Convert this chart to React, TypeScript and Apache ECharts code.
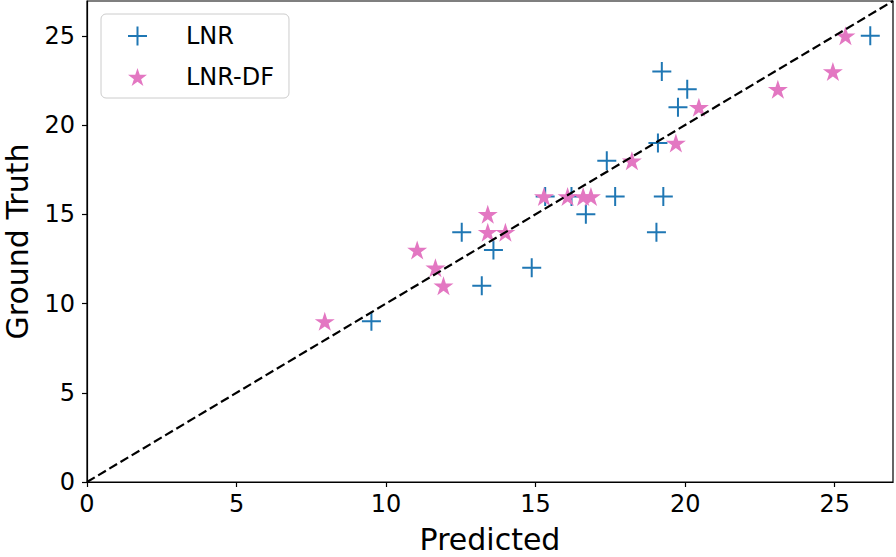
import React, { useEffect, useRef } from "react";
import * as echarts from "echarts";

// Ground truth vs predicted values
const lnrPredicted = [26.19, 19.22, 20.07, 19.76, 19.09, 17.38, 15.32, 16.2, 17.66, 19.27, 16.68, 19.04, 12.53, 13.59, 13.2, 14.87, 9.51];
const lnrTruth = [25, 23, 22, 21, 19, 18, 16, 16, 16, 16, 15, 14, 14, 13, 11, 12, 9];
const dfPredicted = [25.36, 24.94, 23.1, 20.46, 19.69, 18.22, 15.28, 16.07, 16.59, 16.85, 13.4, 13.4, 13.99, 11.04, 11.65, 11.92, 7.95];
const dfTruth = [25, 23, 22, 21, 19, 18, 16, 16, 16, 16, 15, 14, 14, 13, 12, 11, 9];
const tickValues = [0, 5, 10, 15, 20, 25];
const axisMin = 0;
const axisMax = 26.95;
const seriesNames = ["LNR", "LNR-DF"];

const PLUS =
  "path://M-1,-0.105L1,-0.105L1,0.105L-1,0.105Z M-0.105,-1L0.105,-1L0.105,1L-0.105,1Z";
const STAR =
  "path://M0,-1L-0.2245,-0.309L-0.951,-0.309L-0.363,0.118L-0.588,0.809L0,0.382L0.588,0.809L0.363,0.118L0.951,-0.309L0.2245,-0.309Z";

const FONT = "DejaVu Sans";

export default function App() {
  const ref = useRef<HTMLDivElement>(null);
  useEffect(() => {
    document.body.style.margin = "0";
    const chart = echarts.init(ref.current!, null, { renderer: "svg" });
    const zip = (xs: number[], ys: number[]) => xs.map((x, i) => [x, ys[i]]);
    const axisCommon = {
      type: "value",
      min: axisMin,
      max: axisMax,
      interval: 5,
      nameLocation: "middle",
      nameTextStyle: { fontSize: 30, color: "#000", fontFamily: FONT },
      axisLine: { show: true, lineStyle: { color: "#000", width: 1.2 } },
      axisTick: {
        show: true,
        length: 5,
        inside: false,
        lineStyle: { color: "#000", width: 1.2 },
        customValues: tickValues,
      },
      axisLabel: {
        fontSize: 24,
        color: "#000",
        fontFamily: FONT,
        customValues: tickValues,
      },
      splitLine: { show: false },
    };
    chart.setOption({
      animation: false,
      textStyle: { fontFamily: FONT },
      grid: {
        left: 87,
        right: 3,
        top: 1,
        bottom: 75,
        show: true,
        borderColor: "#000",
        borderWidth: 1.2,
        containLabel: false,
        outerBoundsMode: "none",
      },
      legend: {
        orient: "vertical",
        left: 101,
        top: 14,
        padding: [10, 15, 9, 27],
        itemWidth: 19,
        itemHeight: 19,
        itemGap: 17,
        borderColor: "#cccccc",
        borderWidth: 1,
        borderRadius: 5,
        backgroundColor: "rgba(255,255,255,0.8)",
        textStyle: { fontSize: 24, color: "#000", fontFamily: FONT, padding: [0, 0, 0, 34] },
        data: [
          { name: seriesNames[0], icon: PLUS },
          { name: seriesNames[1], icon: STAR },
        ],
      },
      xAxis: {
        ...axisCommon,
        name: "Predicted",
        nameGap: 42,
        axisLabel: { ...axisCommon.axisLabel, margin: 10 },
      },
      yAxis: {
        ...axisCommon,
        name: "Ground Truth",
        nameGap: 55,
        axisLabel: { ...axisCommon.axisLabel, margin: 12 },
      },
      series: [
        {
          name: seriesNames[0],
          type: "scatter",
          symbol: PLUS,
          symbolSize: 19,
          itemStyle: { color: "#1f77b4", opacity: 1 },
          data: zip(lnrPredicted, lnrTruth),
          z: 2,
        },
        {
          name: seriesNames[1],
          type: "scatter",
          symbol: STAR,
          symbolSize: [20, 19],
          itemStyle: { color: "#e377c2", opacity: 1 },
          data: zip(dfPredicted, dfTruth),
          z: 3,
        },
        {
          type: "line",
          data: [
            [axisMin, axisMin],
            [axisMax, axisMax],
          ],
          symbol: "none",
          silent: true,
          lineStyle: { color: "#000", width: 2.2, type: [9, 4] },
          z: 4,
        },
      ],
    });
    return () => chart.dispose();
  }, []);
  return (
    <div
      ref={ref}
      style={{ position: "absolute", left: 0, top: 0, width: 896, height: 557 }}
    />
  );
}
